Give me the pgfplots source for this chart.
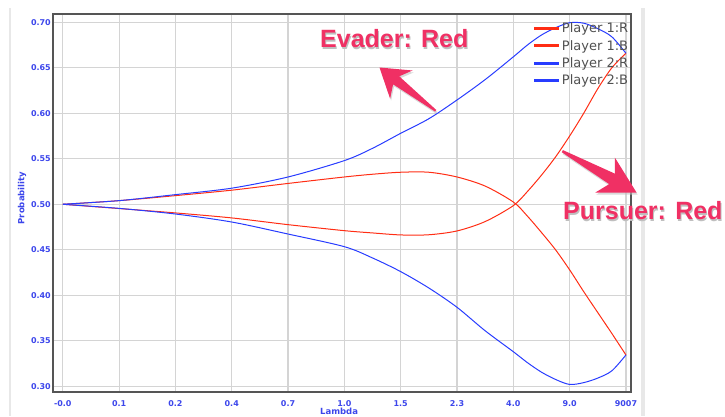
\documentclass[border=0pt]{standalone}
\usepackage{fontspec}
\setmainfont{DejaVu Sans}
\newfontfamily\annfont{Liberation Sans}
\usepackage{pgfplots}
\usepackage{pgfplotstable}
\pgfplotsset{compat=1.18}
\definecolor{lred}{RGB}{255,45,20}
\definecolor{lblue}{RGB}{40,60,255}
\definecolor{tickblue}{RGB}{60,70,235}
\definecolor{gridc}{RGB}{212,212,212}
\definecolor{framec}{RGB}{85,85,85}
\definecolor{annpink}{RGB}{240,48,100}
\definecolor{panel}{RGB}{232,232,232}
\definecolor{legtext}{RGB}{80,80,80}

\pgfplotstableread{
x y
0 0.500
1 0.4953
2 0.4905
3 0.485
4 0.4776
5 0.471
5.5 0.4685
6 0.4663
6.5 0.4665
7 0.4707
7.5 0.481
8 0.4985
8.25 0.514
8.5 0.532
8.75 0.552
9 0.575
9.25 0.600
9.5 0.627
9.75 0.650
10 0.666
}\pOneR
\pgfplotstableread{
x y
0 0.500
1 0.504
2 0.5095
3 0.5155
4 0.5229
5 0.530
5.5 0.533
6 0.5352
6.5 0.5352
7 0.530
7.5 0.520
8 0.5025
8.25 0.487
8.5 0.469
8.75 0.450
9 0.428
9.25 0.404
9.5 0.381
9.75 0.358
10 0.3344
}\pOneB
\pgfplotstableread{
x y
0 0.500
1 0.504
2 0.5106
3 0.5177
4 0.530
5 0.548
5.5 0.5615
6 0.578
6.5 0.594
7 0.6146
7.5 0.637
8 0.662
8.25 0.675
8.5 0.686
8.75 0.694
9 0.6995
9.25 0.699
9.5 0.693
9.75 0.684
10 0.666
}\pTwoR
\pgfplotstableread{
x y
0 0.500
1 0.4955
2 0.4893
3 0.4805
4 0.4673
5 0.4534
5.5 0.441
6 0.426
6.5 0.408
7 0.3868
7.5 0.361
8 0.338
8.25 0.326
8.5 0.3155
8.75 0.3075
9 0.302
9.25 0.304
9.5 0.309
9.75 0.317
10 0.3344
}\pTwoB

\begin{document}
\begin{tikzpicture}[x=1pt,y=1pt]
\path[use as bounding box] (0,0) rectangle (725,416);
\fill[panel] (9,0) rectangle (11,408);
\fill[panel] (641,0) rectangle (645,408);
\begin{axis}[
  at={(53pt,24pt)}, anchor=south west,
  scale only axis, width=578pt, height=378pt,
  xmin=-0.174, xmax=10.09, ymin=0.2937, ymax=0.7091,
  xtick={0,...,10},
  xticklabels={-0.0,0.1,0.2,0.4,0.7,1.0,1.5,2.3,4.0,9.0,9007},
  ytick={0.30,0.35,0.40,0.45,0.50,0.55,0.60,0.65,0.70},
  yticklabels={0.30,0.35,0.40,0.45,0.50,0.55,0.60,0.65,0.70},
  major tick length=0pt,
  grid=major,
  major grid style={draw=gridc, line width=1.2pt},
  axis line style={draw=framec, line width=1.6pt},
  /pgf/number format/assume math mode=true,
  ticklabel style={font=\fontsize{8}{9}\selectfont\bfseries, text=tickblue},
  xticklabel style={anchor=base, yshift=-14pt},
  yticklabel style={anchor=east, inner sep=0pt, xshift=-2pt},
  xlabel={Lambda}, ylabel={Probability},
  every axis x label/.style={at={(axis description cs:0.495,-0.050)}, anchor=center,
    font=\fontsize{8.5}{9}\selectfont\bfseries, text=tickblue},
  every axis y label/.style={at={(axis description cs:-0.0536,0.513)}, anchor=center, rotate=90,
    font=\fontsize{8.5}{9}\selectfont\bfseries, text=tickblue},
  legend style={at={(rel axis cs:0.830,0.980)}, anchor=north west, draw=none, fill=none,
    font=\fontsize{13}{15}\selectfont, text=legtext, inner sep=0pt, row sep=4pt,
    nodes={inner sep=1pt}},
  legend cell align=left,
  legend image code/.code={\draw[#1,line width=3pt] (0pt,0pt) -- (25pt,0pt);},
]
\addplot[lred, line width=1pt, smooth, tension=0.5] table {\pOneR};
\addlegendentry{Player 1:R}
\addplot[lred, line width=1pt, smooth, tension=0.5] table {\pOneB};
\addlegendentry{Player 1:B}
\addplot[lblue, line width=1pt, smooth, tension=0.5] table {\pTwoR};
\addlegendentry{Player 2:R}
\addplot[lblue, line width=1pt, smooth, tension=0.5] table {\pTwoB};
\addlegendentry{Player 2:B}
\end{axis}
% annotations
\begin{scope}
\fill[black!25, opacity=0.6, shift={(1,-2)}] (379.5,348.5) -- (412.5,345.5) -- (399.2,339.7) -- (436.3,306.0) -- (435.1,304.4) -- (393.1,331.7) -- (390.1,317.3) -- cycle;
\fill[annpink] (379.5,348.5) -- (412.5,345.5) -- (399.2,339.7) -- (436.3,306.0) -- (435.1,304.4) -- (393.1,331.7) -- (390.1,317.3) -- cycle;
\fill[black!25, opacity=0.6, shift={(1,-2)}] (636.5,223.5) -- (614.8,258.5) -- (615.0,242.3) -- (562.9,265.9) -- (561.7,263.8) -- (609.2,231.9) -- (595.4,223.5) -- cycle;
\fill[annpink] (636.5,223.5) -- (614.8,258.5) -- (615.0,242.3) -- (562.9,265.9) -- (561.7,263.8) -- (609.2,231.9) -- (595.4,223.5) -- cycle;
\node[anchor=base west, inner sep=0pt, text=black!25, font=\annfont\bfseries\fontsize{25}{28}\selectfont] at (321,366.5) {Evader: Red};
\node[anchor=base west, inner sep=0pt, text=annpink, font=\annfont\bfseries\fontsize{25}{28}\selectfont] at (320,368) {Evader: Red};
\node[anchor=base west, inner sep=0pt, text=black!25, font=\annfont\bfseries\fontsize{25}{28}\selectfont] at (564,195) {Pursuer: Red};
\node[anchor=base west, inner sep=0pt, text=annpink, font=\annfont\bfseries\fontsize{25}{28}\selectfont] at (563,196.5) {Pursuer: Red};
\end{scope}
\end{tikzpicture}
\end{document}
